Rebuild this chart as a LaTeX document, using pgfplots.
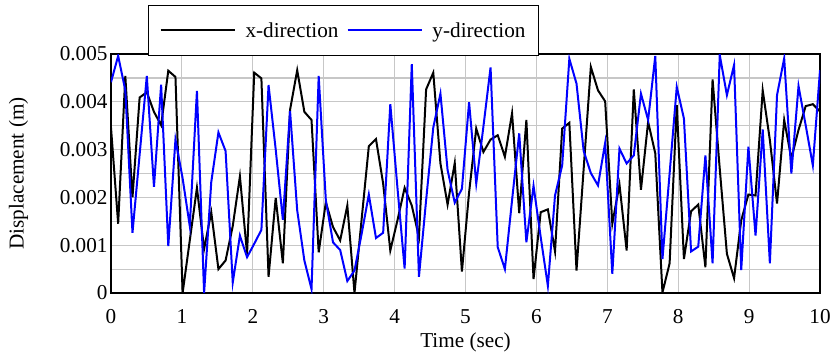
\documentclass[border=0pt]{standalone}
\usepackage{fontspec}
\setmainfont{Liberation Serif}
\usepackage{pgfplots}
\usepackage{pgfplotstable}
\pgfplotsset{compat=1.18}
\pgfplotstableread{
t x y
0.0000 0.00346 0.00441
0.1010 0.00145 0.00496
0.2020 0.00454 0.00424
0.3030 0.00200 0.00126
0.4040 0.00409 0.00290
0.5051 0.00420 0.00454
0.6061 0.00379 0.00222
0.7071 0.00351 0.00436
0.8081 0.00465 0.00098
0.9091 0.00452 0.00321
1.0101 0.00000 0.00240
1.1111 0.00110 0.00140
1.2121 0.00220 0.00423
1.3131 0.00092 0.00000
1.4141 0.00169 0.00232
1.5152 0.00050 0.00336
1.6162 0.00068 0.00297
1.7172 0.00140 0.00022
1.8182 0.00244 0.00120
1.9192 0.00082 0.00075
2.0202 0.00461 0.00103
2.1212 0.00449 0.00132
2.2222 0.00034 0.00435
2.3232 0.00199 0.00300
2.4242 0.00062 0.00153
2.5253 0.00383 0.00381
2.6263 0.00466 0.00173
2.7273 0.00379 0.00068
2.8283 0.00362 0.00008
2.9293 0.00085 0.00454
3.0303 0.00190 0.00194
3.1313 0.00138 0.00106
3.2323 0.00110 0.00090
3.3333 0.00183 0.00025
3.4343 0.00000 0.00047
3.5354 0.00155 0.00124
3.6364 0.00307 0.00206
3.7374 0.00322 0.00115
3.8384 0.00229 0.00126
3.9394 0.00089 0.00395
4.0404 0.00152 0.00220
4.1414 0.00220 0.00051
4.2424 0.00183 0.00479
4.3434 0.00117 0.00034
4.4444 0.00426 0.00194
4.5455 0.00461 0.00346
4.6465 0.00271 0.00417
4.7475 0.00185 0.00257
4.8485 0.00272 0.00189
4.9495 0.00045 0.00218
5.0505 0.00210 0.00399
5.1515 0.00344 0.00229
5.2525 0.00295 0.00348
5.3535 0.00321 0.00472
5.4545 0.00330 0.00096
5.5556 0.00285 0.00050
5.6566 0.00376 0.00194
5.7576 0.00167 0.00334
5.8586 0.00362 0.00106
5.9596 0.00029 0.00224
6.0606 0.00169 0.00117
6.1616 0.00175 0.00015
6.2626 0.00087 0.00204
6.3636 0.00344 0.00267
6.4646 0.00356 0.00490
6.5657 0.00047 0.00438
6.6667 0.00260 0.00297
6.7677 0.00473 0.00251
6.8687 0.00424 0.00225
6.9697 0.00401 0.00314
7.0707 0.00145 0.00040
7.1717 0.00227 0.00302
7.2727 0.00089 0.00271
7.3737 0.00426 0.00288
7.4747 0.00216 0.00417
7.5758 0.00358 0.00362
7.6768 0.00292 0.00496
7.7778 0.00001 0.00071
7.8788 0.00062 0.00250
7.9798 0.00393 0.00431
8.0808 0.00071 0.00365
8.1818 0.00171 0.00087
8.2828 0.00185 0.00097
8.3838 0.00054 0.00288
8.4848 0.00447 0.00062
8.5859 0.00260 0.00498
8.6869 0.00082 0.00414
8.7879 0.00031 0.00477
8.8889 0.00152 0.00048
8.9899 0.00206 0.00306
9.0909 0.00204 0.00120
9.1919 0.00424 0.00342
9.2929 0.00320 0.00062
9.3939 0.00187 0.00414
9.4949 0.00362 0.00491
9.5960 0.00281 0.00250
9.6970 0.00341 0.00433
9.7980 0.00391 0.00351
9.8990 0.00395 0.00267
10.0000 0.00380 0.00466
}\data
\begin{document}
\begin{tikzpicture}
\path[use as bounding box] (-111bp,-61bp) rectangle (722bp,293bp);
\begin{axis}[
  at={(0,0)}, anchor=south west,
  scale only axis, width=709bp, height=239bp,
  xmin=0, xmax=10, ymin=0, ymax=0.005,
  xtick={0,1,2,3,4,5,6,7,8,9,10},
  ytick={0,0.001,0.002,0.003,0.004,0.005},
  yticklabels={0,0.001,0.002,0.003,0.004,0.005},
  minor ytick={0.0005,0.0015,0.0025,0.0035,0.0045},
  scaled y ticks=false,
  xmajorgrids, ymajorgrids, yminorgrids,
  grid style={line width=1.2bp, color=black!22},
  minor grid style={line width=1.2bp, color=black!22},
  major tick length=0pt, minor tick length=0pt,
  axis line style={line width=1.6bp},
  /pgf/number format/assume math mode=true,
  tick label style={font=\fontsize{21.2bp}{24bp}\selectfont},
  xticklabel style={yshift=-13bp},
  label style={font=\fontsize{21.2bp}{24bp}\selectfont},
  xlabel={Time (sec)}, ylabel={Displacement (m)},
  xlabel style={at={(axis description cs:0.5,-0.208)}, anchor=center},
  ylabel style={at={(axis description cs:-0.1305,0.5)}, anchor=center},
  legend columns=2,
  legend style={at={(0.0522,0.9916)}, anchor=south west, draw=black, line width=1bp, fill=white,
    font=\fontsize{21.2bp}{24bp}\selectfont, inner xsep=11bp, inner ysep=15bp,
    /tikz/every even column/.append style={column sep=6bp},
    /tikz/every odd column/.append style={column sep=8bp}},
  legend image code/.code={\draw[#1, line width=2bp] (0bp,0bp) -- (74bp,0bp);},
]
\addplot[black, line width=2bp, no markers] table[x=t, y=x] {\data};
\addlegendentry{x-direction}
\addplot[blue, line width=2bp, no markers] table[x=t, y=y] {\data};
\addlegendentry{y-direction}
\end{axis}
\end{tikzpicture}
\end{document}
